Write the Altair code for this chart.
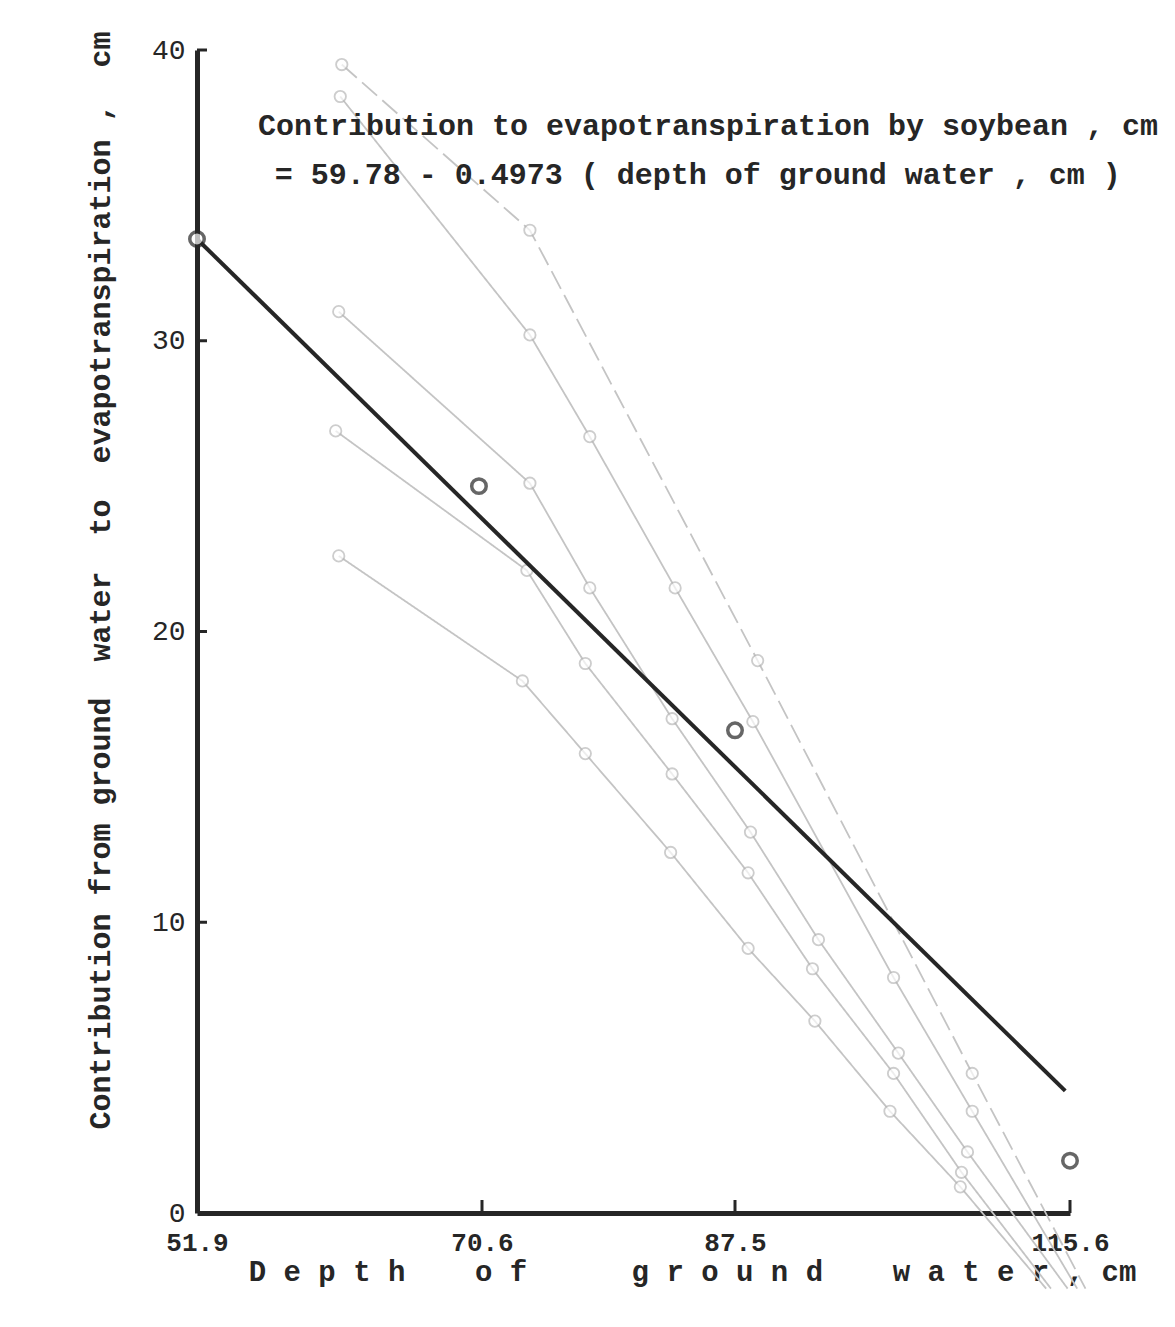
import altair as alt
import pandas as pd

# ---------------- data ----------------
# observed points (bold open circles)
obs_depth = [51.9, 70.4, 87.5, 115.6]
obs_contrib = [33.5, 25.0, 16.6, 1.8]

# regression line as drawn (end points)
reg_depth = [51.9, 115.2]
reg_contrib = [33.5, 4.2]

# faint background series (thin grey lines with small open circles)
g1_depth = [61.4, 73.8, 89.4, 107.4, 116.9]
g1_contrib = [39.5, 33.8, 19.0, 4.8, -2.6]
g2_depth = [61.3, 73.8, 77.8, 83.5, 89.0, 100.8, 107.4, 116.2]
g2_contrib = [38.4, 30.2, 26.7, 21.5, 16.9, 8.1, 3.5, -2.6]
g3_depth = [61.2, 73.8, 77.8, 83.3, 88.8, 94.5, 101.2, 107.0, 115.4]
g3_contrib = [31.0, 25.1, 21.5, 17.0, 13.1, 9.4, 5.5, 2.1, -2.6]
g4_depth = [61.0, 73.6, 77.5, 83.3, 88.6, 94.0, 100.8, 106.5, 114.0]
g4_contrib = [26.9, 22.1, 18.9, 15.1, 11.7, 8.4, 4.8, 1.4, -2.6]
g5_depth = [61.2, 73.3, 77.5, 83.2, 88.6, 94.2, 100.5, 106.4, 113.6]
g5_contrib = [22.6, 18.3, 15.8, 12.4, 9.1, 6.6, 3.5, 0.9, -2.6]

x_ticks = [51.9, 70.6, 87.5, 115.6]
y_ticks = [0, 10, 20, 30, 40]

note_lines = [
    "Contribution to evapotranspiration by soybean , cm",
    "= 59.78 - 0.4973 ( depth of ground water , cm )",
]
note_depth = [55.9, 57.0]
note_contrib = [37.4, 35.7]

NB = "\u00a0"
x_title = ("D e p t h" + NB * 4 + "o f" + NB * 6 + "g r o u n d" + NB * 4 + "w a t e r , cm")
y_title = ("Contribution from ground" + NB * 2 + "water" + NB * 2 + "to" + NB * 2
           + "evapotranspiration ," + NB * 2 + "cm")

# ---------------- tables ----------------
ghost_rows = []
for gid, (ds, cs) in enumerate([(g1_depth, g1_contrib), (g2_depth, g2_contrib),
                                 (g3_depth, g3_contrib), (g4_depth, g4_contrib),
                                 (g5_depth, g5_contrib)]):
    for i, (d, c) in enumerate(zip(ds, cs)):
        ghost_rows.append({"g": f"g{gid+1}", "i": i, "depth": d, "contrib": c,
                           "mark": c >= 0})
ghost = pd.DataFrame(ghost_rows)
obs = pd.DataFrame({"depth": obs_depth, "contrib": obs_contrib})
reg = pd.DataFrame({"depth": reg_depth, "contrib": reg_contrib})
notes = pd.DataFrame({"depth": note_depth, "contrib": note_contrib, "text": note_lines})
yt = pd.DataFrame({"v": y_ticks[1:]})
xt = pd.DataFrame({"v": x_ticks[1:]})

W, H = 873, 1163
MONO = "Liberation Mono"
INK = "#262626"

xscale = alt.Scale(domain=x_ticks, range=[0, 285, 538, 873], nice=False, zero=False)
yscale = alt.Scale(domain=[0, 40], nice=False, zero=True)

x_axis = alt.Axis(values=x_ticks, format=".1f", ticks=False, grid=False,
                  domainWidth=5, domainColor=INK, labelFont=MONO, labelFontSize=26,
                  labelFontWeight="bold", labelColor=INK, labelPadding=16,
                  labelFlush=False, labelOverlap=False,
                  title=x_title, titleFont=MONO, titleFontSize=29, titleFontWeight="bold",
                  titleColor=INK, titleX=495, titleY=58, titleAlign="center",
                  titleBaseline="middle")
y_axis = alt.Axis(values=y_ticks, format="d", ticks=False, grid=False,
                  domainWidth=5, domainColor=INK, labelFont=MONO, labelFontSize=28,
                  labelColor=INK, labelPadding=12, labelFlush=False,
                  title=y_title, titleFont=MONO, titleFontSize=30, titleFontWeight="bold",
                  titleColor=INK, titleX=-97, titleY=530, titleAlign="center",
                  titleBaseline="middle", titleAngle=270)

X = alt.X("depth:Q", scale=xscale, axis=x_axis)
Y = alt.Y("contrib:Q", scale=yscale, axis=y_axis)

ghost_lines = alt.Chart(ghost).mark_line(color="#c4c4c4", strokeWidth=1.8).encode(
    x=X, y=Y, detail="g:N", order="i:Q",
    strokeDash=alt.condition(alt.datum.g == "g1", alt.value([20, 7]), alt.value([1, 0])),
)
ghost_pts = alt.Chart(ghost).transform_filter(alt.datum.mark).mark_point(
    shape="circle", filled=True, fill="white", stroke="#b8b8b8", strokeWidth=1.8, size=130
).encode(x=X, y=Y)

reg_line = alt.Chart(reg).mark_line(color=INK, strokeWidth=4).encode(x=X, y=Y)
obs_pts = alt.Chart(obs).mark_point(
    shape="circle", filled=True, fill="white", stroke=INK, strokeWidth=3.5, size=210
).encode(x=X, y=Y)

ytick_marks = alt.Chart(yt).mark_rule(color=INK, strokeWidth=3).encode(
    y=alt.Y("v:Q", scale=yscale), x=alt.value(0), x2=alt.value(10))
xtick_marks = alt.Chart(xt).mark_rule(color=INK, strokeWidth=3).encode(
    x=alt.X("v:Q", scale=xscale), y=alt.value(H), y2=alt.value(H - 13))

note_text = alt.Chart(notes).mark_text(
    align="left", baseline="middle", font=MONO, fontSize=30, fontWeight="bold", color=INK
).encode(x=X, y=Y, text="text:N")

chart = alt.layer(
    ghost_lines, ghost_pts, reg_line, obs_pts, ytick_marks, xtick_marks, note_text
).properties(
    width=W, height=H,
    autosize=alt.AutoSizeParams(type="none"),
    padding={"left": 189, "top": 42, "right": 96, "bottom": 100},
    background="white",
).configure_view(stroke=None)

chart.save("out.html", embed_options={"renderer": "svg", "actions": False})
